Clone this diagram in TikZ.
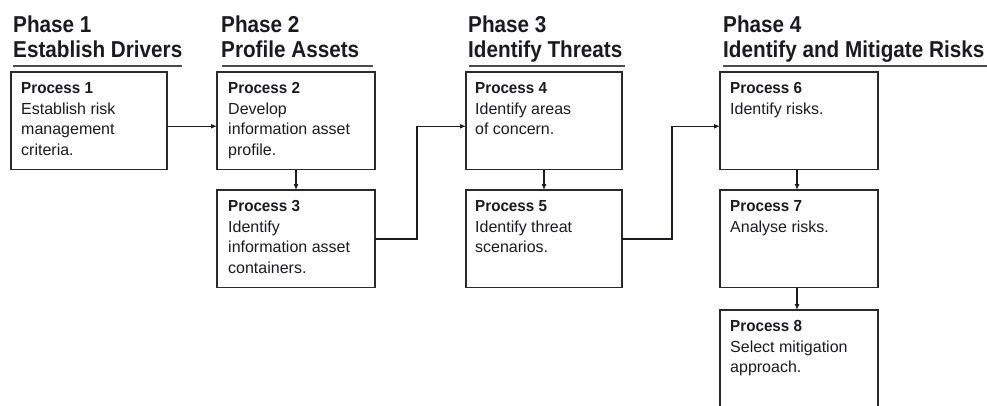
\documentclass[tikz,border=0pt]{standalone}
\usepackage{fontspec}
\setmainfont{Liberation Sans}
\newfontfamily\headfont{Liberation Sans}[FakeStretch=0.9]
\newfontfamily\procfont{Liberation Sans}[FakeStretch=0.95]
\newfontfamily\bodyfont{Liberation Sans}
\usetikzlibrary{arrows.meta}

\definecolor{ink}{HTML}{1A1A20}
\definecolor{rule}{HTML}{4A4A4A}
\definecolor{frame}{HTML}{2A2A2A}

\tikzset{
  heading/.style={anchor=north west, inner sep=0pt, align=left, text=ink,
    font=\headfont\bfseries\fontsize{23}{25}\selectfont},
  headrule/.style={draw=rule, line width=2.6pt},
  procbox/.style={draw=frame, line width=1.8pt, anchor=north west,
    minimum height=97.5pt, inner sep=0pt, outer sep=0pt},
  proctext/.style={anchor=north west, inner sep=0pt, align=left, text=ink,
    font=\bodyfont\fontsize{16}{20.5}\selectfont},
  flow/.style={draw=ink, line width=1.5pt, -{Latex[length=6pt,width=5pt]}},
}
\newcommand{\proctitle}[1]{{\procfont\bfseries #1}}

\begin{document}
\begin{tikzpicture}[x=1pt,y=-1pt]
  \clip (0,0) rectangle (987,405);
  \useasboundingbox (0,0) rectangle (987,405);

  % phase headings with their rules
  \node[heading] (h1) at (13,15.5) {Phase 1\\Establish Drivers};
  \node[heading] (h2) at (221,15.5) {Phase 2\\Profile Assets};
  \node[heading] (h3) at (468,15.5) {Phase 3\\Identify Threats};
  \node[heading] (h4) at (723,15.5) {Phase 4\\Identify and Mitigate Risks};
  \draw[headrule] (13,66) -- (182,66);
  \draw[headrule] (222,66) -- (373,66);
  \draw[headrule] (469,66) -- (625,66);
  \draw[headrule] (723,66) -- (990,66);

  % process boxes
  \node[procbox, minimum width=156pt] (b1) at (11,72) {};
  \node[procbox, minimum width=158pt] (b2) at (217,72) {};
  \node[procbox, minimum width=158pt] (b3) at (217,190) {};
  \node[procbox, minimum width=156pt] (b4) at (466,72) {};
  \node[procbox, minimum width=156pt] (b5) at (466,190) {};
  \node[procbox, minimum width=158pt] (b6) at (720,72) {};
  \node[procbox, minimum width=158pt] (b7) at (720,190) {};
  \node[procbox, minimum width=158pt] (b8) at (720,310) {};

  % box texts
  \node[proctext] (t1) at ([xshift=10pt,yshift=-10.5pt]b1.north west)
    {\proctitle{Process 1}\\Establish risk\\management\\criteria.};
  \node[proctext] (t2) at ([xshift=11pt,yshift=-10.5pt]b2.north west)
    {\proctitle{Process 2}\\Develop\\information asset\\profile.};
  \node[proctext] (t3) at ([xshift=11pt,yshift=-10.5pt]b3.north west)
    {\proctitle{Process 3}\\Identify\\information asset\\containers.};
  \node[proctext] (t4) at ([xshift=9pt,yshift=-10.5pt]b4.north west)
    {\proctitle{Process 4}\\Identify areas\\of concern.};
  \node[proctext] (t5) at ([xshift=9pt,yshift=-10.5pt]b5.north west)
    {\proctitle{Process 5}\\Identify threat\\scenarios.};
  \node[proctext] (t6) at ([xshift=10pt,yshift=-10.5pt]b6.north west)
    {\proctitle{Process 6}\\Identify risks.};
  \node[proctext] (t7) at ([xshift=10pt,yshift=-10.5pt]b7.north west)
    {\proctitle{Process 7}\\Analyse risks.};
  \node[proctext] (t8) at ([xshift=10pt,yshift=-10.5pt]b8.north west)
    {\proctitle{Process 8}\\Select mitigation\\approach.};

  % bend columns of the links between phases
  \coordinate (k1) at (417,0);
  \coordinate (k2) at (672,0);

  % flow between processes
  \draw[flow] ([yshift=-5.5pt]b1.east) -- ([yshift=-5.5pt]b2.west);
  \draw[flow] (b2.south) -- (b3.north);
  \draw[flow] (b3.east) -- (b3.east -| k1) |- ([yshift=-5.5pt]b4.west);
  \draw[flow] (b4.south) -- (b5.north);
  \draw[flow] (b5.east) -- (b5.east -| k2) |- ([yshift=-5.5pt]b6.west);
  \draw[flow] ([xshift=-2pt]b6.south) -- ([xshift=-2pt]b7.north);
  \draw[flow] ([xshift=-2pt]b7.south) -- ([xshift=-2pt]b8.north);
\end{tikzpicture}
\end{document}
